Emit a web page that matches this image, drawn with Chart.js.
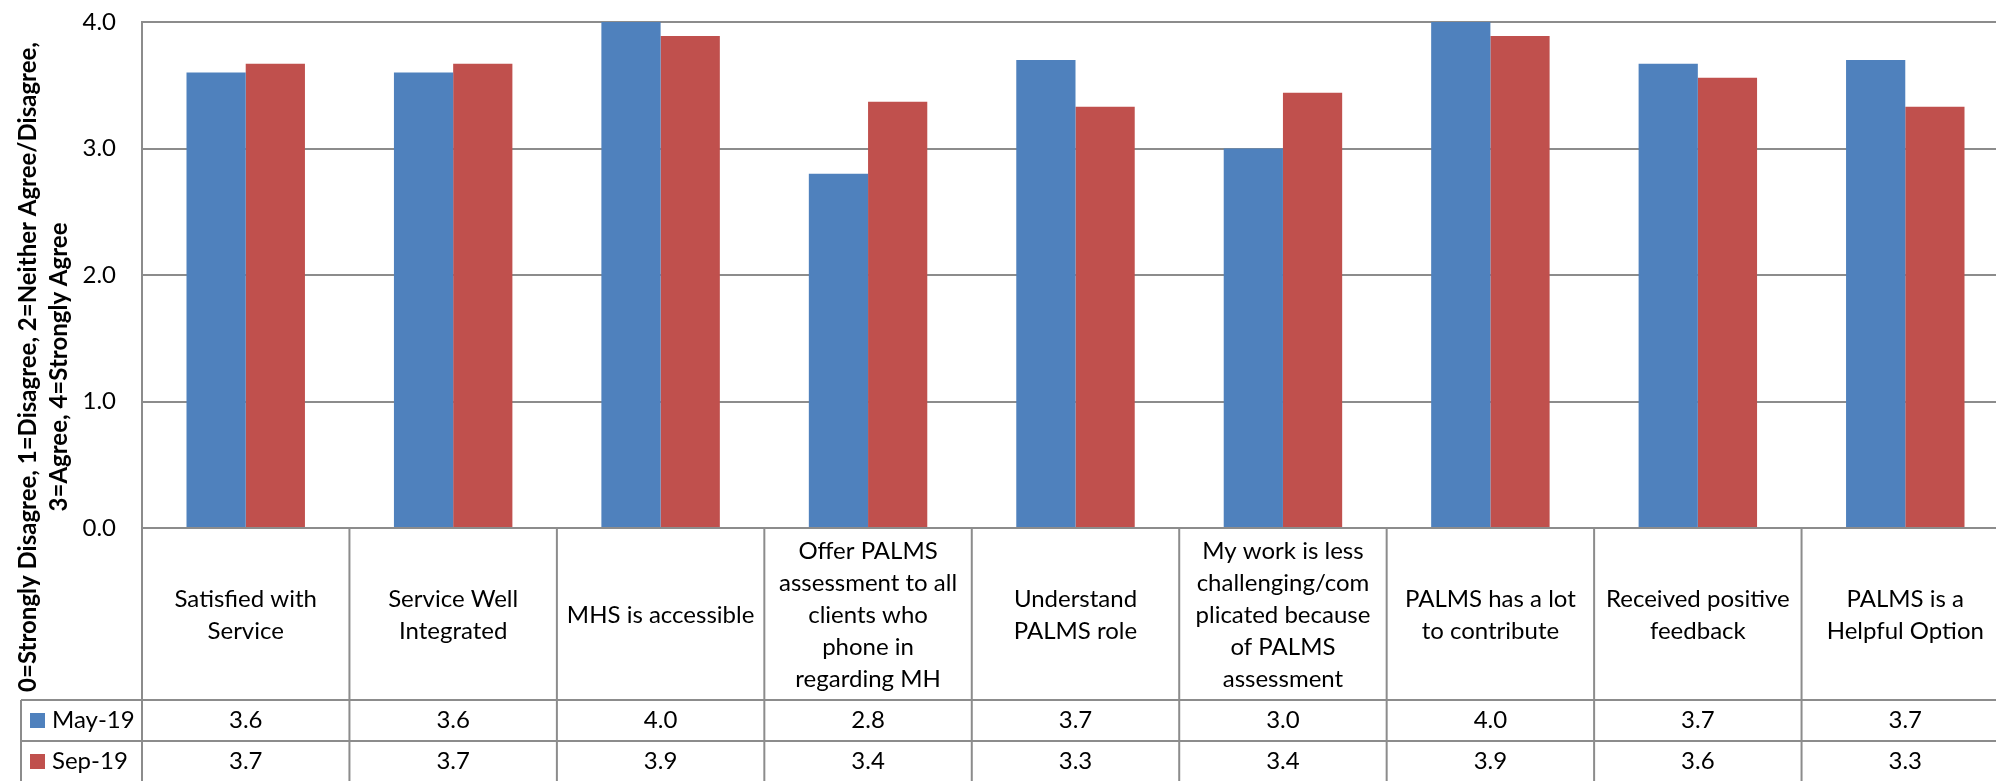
<!DOCTYPE html>
<html>
<head>
<meta charset="utf-8">
<script src="https://cdn.jsdelivr.net/npm/chart.js@4/dist/chart.umd.min.js"></script>
<style>
  html, body { margin: 0; padding: 0; background: #ffffff; overflow: hidden; }
  #wrap { position: relative; width: 2012px; height: 781px; }
</style>
</head>
<body>
<div id="wrap"><canvas id="c" width="2012" height="781"></canvas></div>
<script>
// Survey statements (each entry holds the wrapped lines of one column header)
const categories = [
  ['Satisfied with', 'Service'],
  ['Service Well', 'Integrated'],
  ['MHS is accessible'],
  ['Offer PALMS', 'assessment to all', 'clients who', 'phone in', 'regarding MH'],
  ['Understand', 'PALMS role'],
  ['My work is less', 'challenging/com', 'plicated because', 'of PALMS', 'assessment'],
  ['PALMS has a lot', 'to contribute'],
  ['Received positive', 'feedback'],
  ['PALMS is a', 'Helpful Option']
];

// Mean agreement scores per survey round
const seriesNames = ['May-19', 'Sep-19'];
const may19 = [3.6, 3.6, 4.0, 2.8, 3.7, 3.0, 4.0, 3.67, 3.7];
const sep19 = [3.67, 3.67, 3.89, 3.37, 3.33, 3.44, 3.89, 3.56, 3.33];

// Value axis
const yTicks = [0, 1, 2, 3, 4];
const yTitleLines = [
  '0=Strongly Disagree, 1=Disagree, 2=Neither Agree/Disagree,',
  '3=Agree, 4=Strongly Agree'
];

const BLUE = '#4F81BD';
const RED = '#C0504D';
const GRID = '#8c8c8c';
const FONT = 'Lato, "Liberation Sans", sans-serif';
const FONT_SIZE = 24;

// Geometry of the data table drawn under the plot
const TABLE = {
  headerHeight: 172,
  rowHeight: 41,
  legendLeft: 21,
  lineHeight: 32
};

const seriesValues = [may19, sep19];
const seriesColors = [BLUE, RED];

// Draws the data table (category headers, value rows, legend keys) below the plot
const dataTablePlugin = {
  id: 'dataTable',
  afterDraw(chart) {
    const { ctx, chartArea } = chart;
    const x = chart.scales.x;
    const n = categories.length;
    const catW = (chartArea.right - chartArea.left) / n;
    const top = chartArea.bottom;
    const row1 = top + TABLE.headerHeight;
    const row2 = row1 + TABLE.rowHeight;
    const bottom = row2 + TABLE.rowHeight;
    const right = chartArea.right;

    ctx.save();
    ctx.strokeStyle = GRID;
    ctx.lineWidth = 2;
    ctx.beginPath();
    // horizontal rules
    ctx.moveTo(chartArea.left, top); ctx.lineTo(right, top);
    ctx.moveTo(TABLE.legendLeft, row1); ctx.lineTo(right, row1);
    ctx.moveTo(TABLE.legendLeft, row2); ctx.lineTo(right, row2);
    ctx.moveTo(TABLE.legendLeft, bottom); ctx.lineTo(right, bottom);
    // vertical rules
    ctx.moveTo(TABLE.legendLeft, row1); ctx.lineTo(TABLE.legendLeft, bottom);
    for (let i = 0; i <= n; i++) {
      const bx = chartArea.left + i * catW;
      ctx.moveTo(bx, top); ctx.lineTo(bx, bottom);
    }
    ctx.stroke();

    ctx.fillStyle = '#000';
    ctx.font = FONT_SIZE + 'px ' + FONT;
    ctx.textAlign = 'center';
    ctx.textBaseline = 'middle';

    // column headers
    const headMid = top + TABLE.headerHeight / 2 + 1;
    categories.forEach((lines, i) => {
      const cx = x.getPixelForValue(i);
      const start = headMid - (lines.length - 1) * TABLE.lineHeight / 2;
      lines.forEach((t, k) => ctx.fillText(t, cx, start + k * TABLE.lineHeight));
    });

    // value rows
    seriesValues.forEach((vals, s) => {
      const cy = row1 + s * TABLE.rowHeight + TABLE.rowHeight / 2;
      vals.forEach((v, i) => {
        ctx.fillText(v.toFixed(1), x.getPixelForValue(i), cy);
      });
      // legend key
      ctx.fillStyle = seriesColors[s];
      ctx.fillRect(30, cy - 7.5, 15, 15);
      ctx.fillStyle = '#000';
      ctx.textAlign = 'left';
      ctx.fillText(seriesNames[s], 52, cy);
      ctx.textAlign = 'center';
    });
    ctx.restore();
  }
};

// Two-line rotated value-axis title
const yTitlePlugin = {
  id: 'yTitle',
  afterDraw(chart) {
    const { ctx } = chart;
    ctx.save();
    ctx.translate(28, 367);
    ctx.rotate(-Math.PI / 2);
    ctx.fillStyle = '#000';
    ctx.font = 'bold ' + FONT_SIZE + 'px ' + FONT;
    ctx.textAlign = 'center';
    ctx.textBaseline = 'middle';
    yTitleLines.forEach((t, k) => ctx.fillText(t, 0, k * 31));
    ctx.restore();
  }
};

new Chart(document.getElementById('c'), {
  type: 'bar',
  data: {
    labels: categories.map(l => l.join(' ')),
    datasets: seriesNames.map((name, s) => ({
      label: name,
      data: seriesValues[s],
      backgroundColor: seriesColors[s],
      borderWidth: 0,
      categoryPercentage: 0.571,
      barPercentage: 1.0
    }))
  },
  options: {
    responsive: false,
    devicePixelRatio: 1,
    animation: false,
    layout: { padding: { top: 22, bottom: 253, left: 0, right: 3 } },
    plugins: {
      legend: { display: false },
      tooltip: { enabled: false }
    },
    scales: {
      x: {
        type: 'category',
        display: false,
        grid: { display: false }
      },
      y: {
        min: yTicks[0],
        max: yTicks[yTicks.length - 1],
        afterFit(scale) {
          scale.width = 142;
          scale.paddingTop = 0;
          scale.paddingBottom = 0;
        },
        afterBuildTicks(scale) { scale.ticks = yTicks.map(v => ({ value: v })); },
        ticks: {
          padding: 26,
          color: '#000',
          font: { family: FONT, size: FONT_SIZE },
          callback: v => Number(v).toFixed(1)
        },
        grid: { color: GRID, lineWidth: 2, drawTicks: false },
        border: { display: true, color: GRID, width: 2 }
      }
    }
  },
  plugins: [dataTablePlugin, yTitlePlugin]
});
</script>
</body>
</html>
